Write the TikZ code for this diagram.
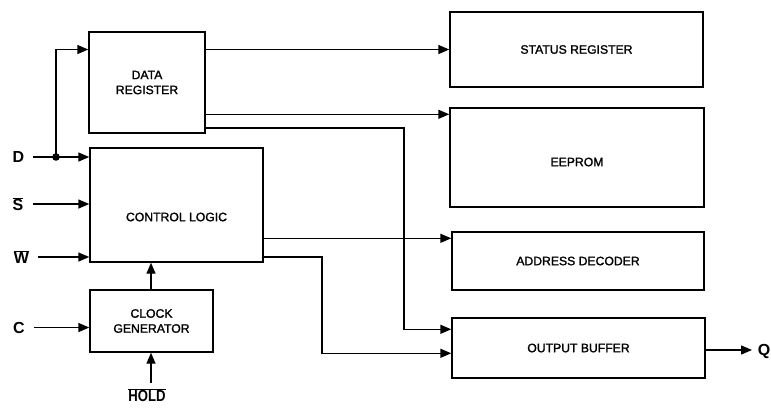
\documentclass[tikz,border=0pt]{standalone}
\usepackage{fontspec}
\setmainfont{Liberation Sans}
\newfontfamily\boxfont{Liberation Sans}[FakeBold=1.5]
\usetikzlibrary{arrows.meta}
\begin{document}
\begin{tikzpicture}[x=1pt,y=-1pt,
  box/.style={draw,line width=1.4pt,inner sep=0pt,align=center,font=\boxfont\fontsize{12.2}{15}\selectfont},
  txt/.style={inner sep=0pt,align=center,font=\boxfont\fontsize{12.2}{15}\selectfont},
  pin/.style={inner ysep=1pt,inner xsep=9pt,font=\fontsize{16}{18}\selectfont\bfseries},
  arr/.style={line width=1.4pt,-{Triangle[length=11pt,width=9pt]}}]
\useasboundingbox (0,0) rectangle (771,408);
% boxes
\node[box,minimum width=116pt,minimum height=101pt] (DR) at (147,82.5) {DATA\\REGISTER};
\node[box,minimum width=173pt,minimum height=114pt] (CL) at (176.5,205) {};
\node[txt] (CLt) at (176.5,217) {CONTROL LOGIC};
\node[box,minimum width=123pt,minimum height=62pt] (CG) at (151.5,321) {CLOCK\\GENERATOR};
\node[box,minimum width=253pt,minimum height=75pt] (SR) at (576.5,49.5) {STATUS REGISTER};
\node[box,minimum width=254pt,minimum height=99pt] (EE) at (577,157.5) {};
\node[txt] (EEt) at (577,162) {EEPROM};
\node[box,minimum width=252pt,minimum height=58pt] (AD) at (578,261) {ADDRESS DECODER};
\node[box,minimum width=253pt,minimum height=60pt] (OB) at (578.5,348) {OUTPUT BUFFER};
% pins
\node[pin] (D) at (18.5,157) {D};
\node[pin] (S) at (18,204) {$\overline{\mbox{\bfseries S}}$};
\node[pin] (W) at (21.5,257) {$\overline{\mbox{\bfseries W}}$};
\node[pin] (C) at (19,327.5) {C};
\node[pin,inner xsep=0pt,inner ysep=2pt] (HOLD) at (147,395) {\scalebox{0.82}[1]{$\overline{\mbox{\bfseries HOLD}}$}};
\node[pin,inner xsep=0pt] (Q) at (764,351) {Q};
% helper coordinates
\coordinate (dot) at (56,157);
\coordinate (EEin) at ([yshift=-7pt]EE.north west);
\coordinate (ADin) at ([yshift=-7pt]AD.north west);
\coordinate (OBin1) at ([yshift=-12pt]OB.north west);
\coordinate (OBin2) at ([yshift=-36pt]OB.north west);
\coordinate (bend1) at (404,128);
\coordinate (bend2) at (322,257);
\coordinate (qend) at (752,350);
\coordinate (holdtail) at (151,383);
% connectors
\draw[arr] (D.east) -- (CL.west |- D);
\fill (dot) circle (3.8pt);
\draw[arr] (dot) |- (DR.west |- SR.west);
\draw[arr] (S.east) -- (CL.west |- S);
\draw[arr] (W.east) -- (CL.west |- W);
\draw[arr] (C.east) -- (CG.west |- C);
\draw[arr] (holdtail) -- (holdtail |- CG.south);
\draw[arr] (CG.north -| holdtail) -- (holdtail |- CL.south);
\draw[arr] (DR.east |- SR.west) -- (SR.west);
\draw[arr] (DR.east |- EEin) -- (EEin);
\draw[arr] (DR.east |- bend1) -- (bend1) |- (OBin1);
\draw[arr] (CL.east |- ADin) -- (ADin);
\draw[arr] (CL.east |- bend2) -- (bend2) |- (OBin2);
\draw[arr] (OB.east |- qend) -- (qend);
\end{tikzpicture}
\end{document}
